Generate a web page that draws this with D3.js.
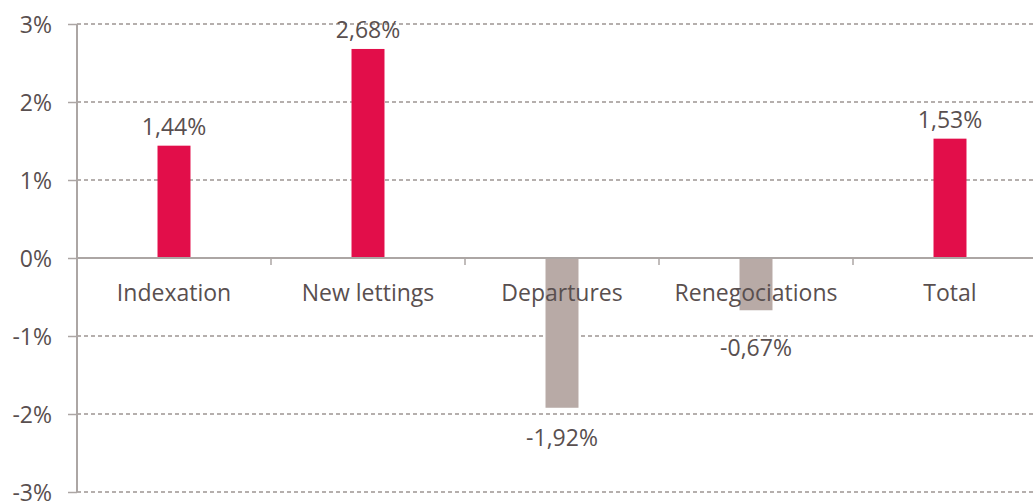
<!DOCTYPE html>
<html>
<head>
<meta charset="utf-8">
<script src="https://cdn.jsdelivr.net/npm/d3@7"></script>
<style>
  html, body { margin: 0; padding: 0; background: #fff; }
  svg { display: block; }
  text { font-family: "Open Sans", "Noto Sans", sans-serif; fill: #594f4f; }
</style>
</head>
<body>
<svg id="chart" width="1033" height="503"></svg>
<script>
const categories = ["Indexation", "New lettings", "Departures", "Renegociations", "Total"];
const values = [1.44, 2.68, -1.92, -0.67, 1.53];
const valueLabels = ["1,44%", "2,68%", "-1,92%", "-0,67%", "1,53%"];
const yTicks = [-3, -2, -1, 0, 1, 2, 3];
const yTickLabels = ["-3%", "-2%", "-1%", "0%", "1%", "2%", "3%"];

(function () {
const mLeft = 77, mRight = 1047, mTop = 24, mBottom = 492;
const RED = "#e20e4a", GREY = "#b8aaa6";
const AXIS = "#aca6a4", GRID = "#9d9593";
const FS = 23;

const svg = d3.select("#chart");
const x = d3.scaleBand().domain(categories).range([mLeft, mRight]).padding(0);
const y = d3.scaleLinear().domain([-3, 3]).range([mBottom, mTop]);
const barW = x.bandwidth() * 0.17;
const y0 = y(0);

// gridlines
svg.append("g").selectAll("line").data(yTicks.filter(d => d !== 0)).join("line")
  .attr("x1", mLeft).attr("x2", mRight)
  .attr("y1", d => y(d)).attr("y2", d => y(d))
  .attr("stroke", GRID).attr("stroke-width", 1.3).attr("stroke-dasharray", "4,3");

// y axis
const yAxis = d3.axisLeft(y).tickValues(yTicks).tickSize(9).tickPadding(16)
  .tickFormat((d, i) => yTickLabels[i]);
const gy = svg.append("g").attr("transform", `translate(${mLeft},0)`).call(yAxis);
gy.select(".domain").attr("stroke", AXIS).attr("stroke-width", 2).attr("d", `M0,${mTop}V${mBottom}`);
gy.selectAll(".tick line").attr("stroke", AXIS).attr("stroke-width", 1.5);
gy.selectAll(".tick text").attr("font-size", FS).attr("fill", "#594f4f")
  .attr("font-family", "Open Sans").attr("dy", "0.35em");

// bars
svg.append("g").selectAll("rect").data(values).join("rect")
  .attr("x", (d, i) => x(categories[i]) + x.bandwidth() / 2 - barW / 2)
  .attr("width", barW)
  .attr("y", d => Math.min(y(d), y0))
  .attr("height", d => Math.abs(y(d) - y0))
  .attr("fill", d => d >= 0 ? RED : GREY);

// x axis line at zero
svg.append("line").attr("x1", mLeft).attr("x2", mRight).attr("y1", y0).attr("y2", y0)
  .attr("stroke", AXIS).attr("stroke-width", 2);
svg.append("g").selectAll("line").data(categories.slice(1)).join("line")
  .attr("x1", d => x(d)).attr("x2", d => x(d))
  .attr("y1", y0).attr("y2", y0 + 7)
  .attr("stroke", AXIS).attr("stroke-width", 1.5);

// category labels
svg.append("g").selectAll("text").data(categories).join("text")
  .attr("x", d => x(d) + x.bandwidth() / 2)
  .attr("y", y0 + 43)
  .attr("text-anchor", "middle").attr("font-size", FS)
  .text(d => d);

// value labels
svg.append("g").selectAll("text").data(values).join("text")
  .attr("x", (d, i) => x(categories[i]) + x.bandwidth() / 2)
  .attr("y", d => d >= 0 ? y(d) - 11 : Math.max(y(d) + 38, y0 + 98))
  .attr("text-anchor", "middle").attr("font-size", FS)
  .text((d, i) => valueLabels[i]);
})();
</script>
</body>
</html>
